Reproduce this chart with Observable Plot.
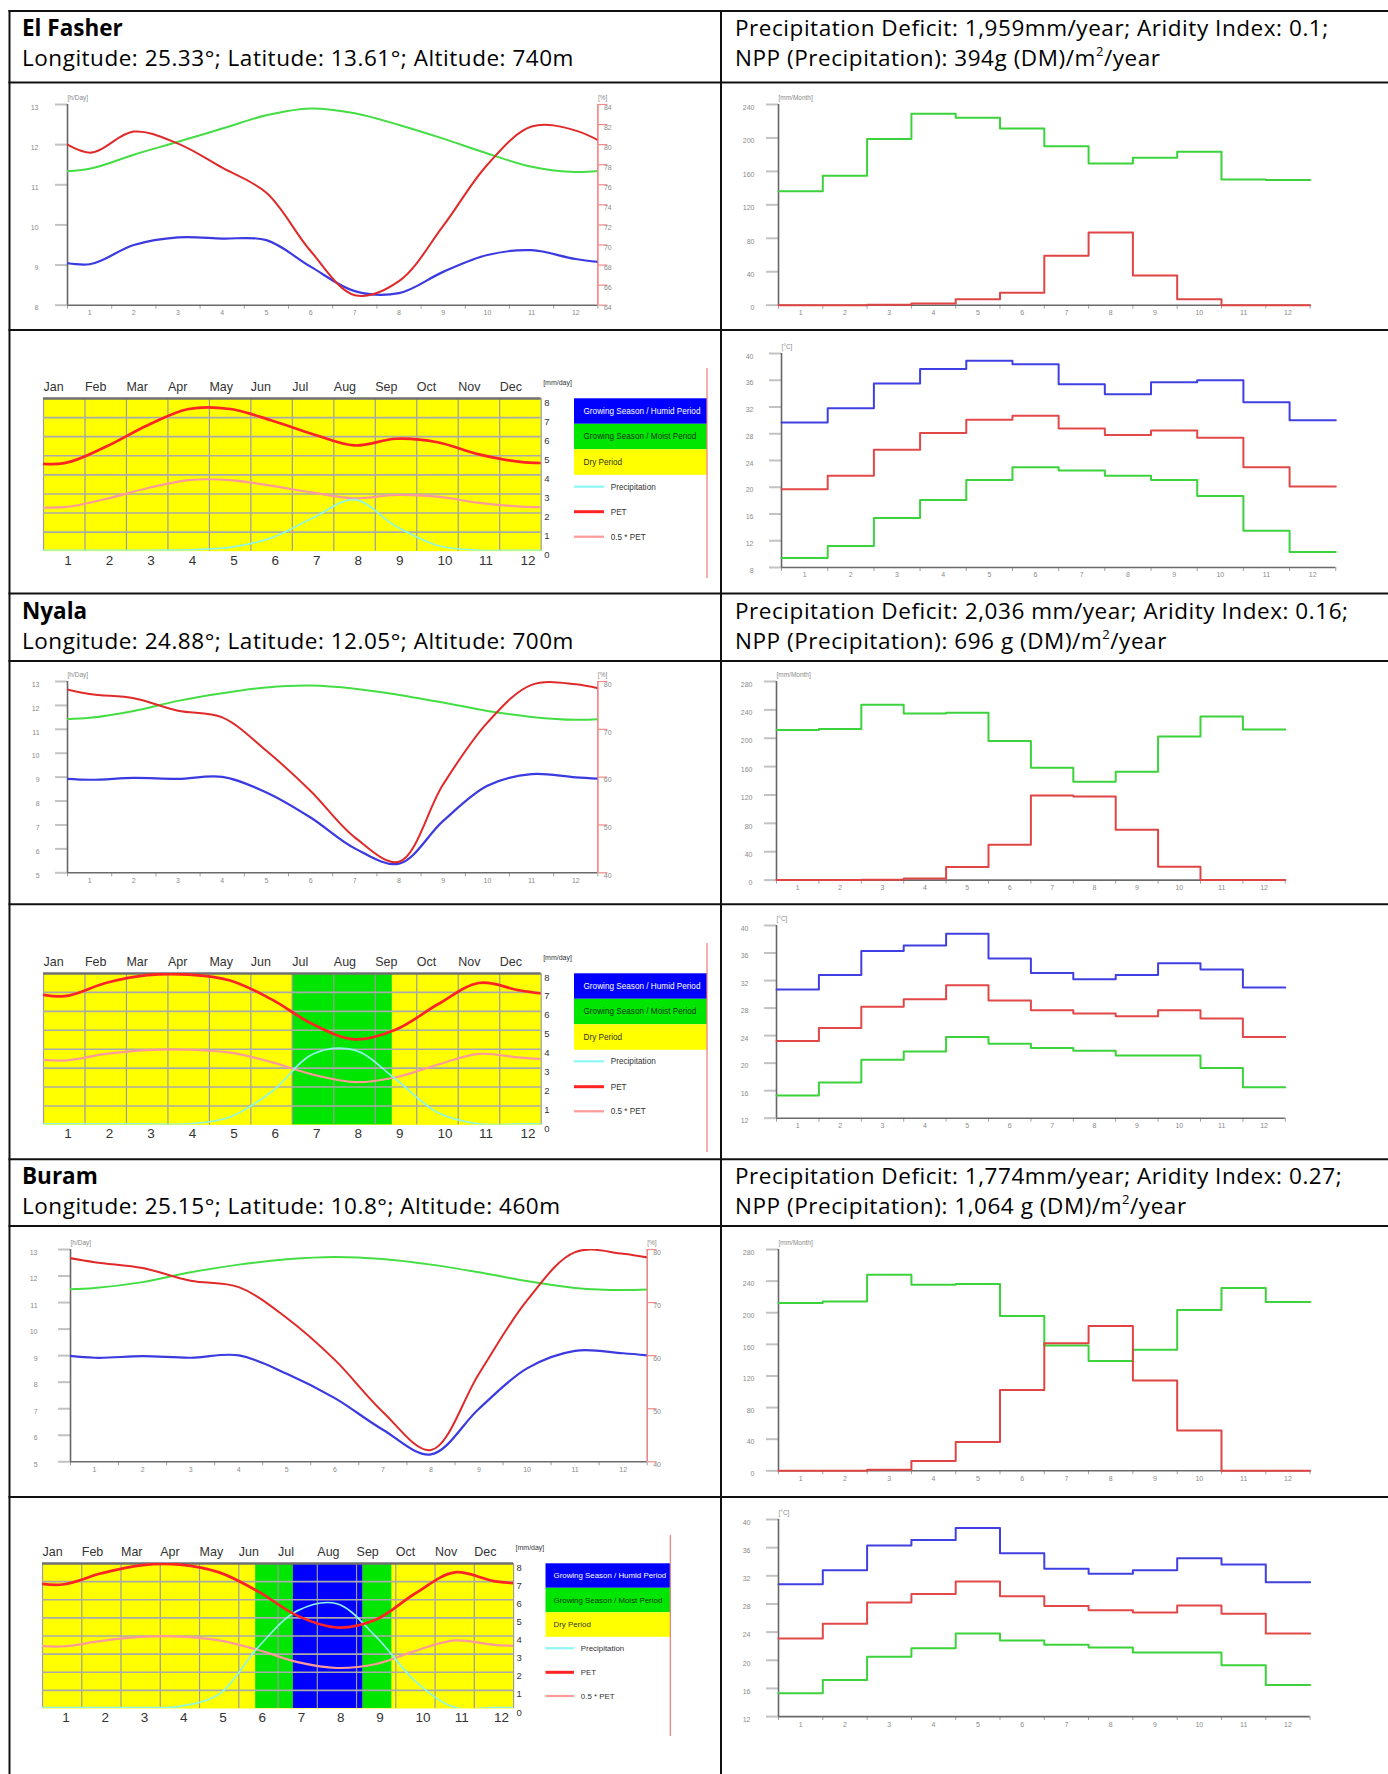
<!DOCTYPE html>
<html>
<head>
<meta charset="utf-8">
<script src="https://cdn.jsdelivr.net/npm/d3@7"></script>
<script src="https://cdn.jsdelivr.net/npm/@observablehq/plot@0.6"></script>
<style>
  html, body { margin: 0; padding: 0; background: #fff; }
  #page { position: relative; width: 1388px; height: 1774px; overflow: hidden; background: #fff; }
  #page > svg { position: absolute; }
</style>
</head>
<body>
<div id="page"></div>
<script>
// ---------------- data ----------------
const months = ["Jan", "Feb", "Mar", "Apr", "May", "Jun", "Jul", "Aug", "Sep", "Oct", "Nov", "Dec"];
const monthNumbers = [1, 2, 3, 4, 5, 6, 7, 8, 9, 10, 11, 12];
const periodLabels = ["Growing Season / Humid Period", "Growing Season / Moist Period", "Dry Period"];
const seriesLabels = ["Precipitation", "PET", "0.5 * PET"];

// El Fasher
const fasherName = "El Fasher";
const fasherLocation = "Longitude: 25.33°; Latitude: 13.61°; Altitude: 740m";
const fasherBalance = "Precipitation Deficit: 1,959mm/year; Aridity Index: 0.1;";
const fasherNpp = ["NPP (Precipitation): 394g (DM)/m", "2", "/year"];
const fasherDayLength = [11.40, 11.75, 12.07, 12.40, 12.73, 12.90, 12.78, 12.49, 12.15, 11.78, 11.45, 11.32];
const fasherSunshine = [9.02, 9.50, 9.69, 9.66, 9.62, 8.96, 8.35, 8.30, 8.83, 9.25, 9.37, 9.15];
const fasherRelSunshine = [79.2, 81.3, 80.1, 77.7, 75.2, 69.4, 65.0, 66.4, 71.9, 78.0, 81.8, 81.4];
const fasherPetDaily = [4.61, 5.47, 6.59, 7.45, 7.45, 6.85, 6.13, 5.54, 5.89, 5.71, 5.07, 4.68];
const fasherRainDaily = [0.05, 0.05, 0.05, 0.07, 0.20, 0.70, 1.75, 2.70, 1.30, 0.30, 0.05, 0.05];
const fasherMoist = [];
const fasherHumid = [];
const fasherPetMonthly = [136.4, 154.7, 198.6, 228.9, 224.1, 211.4, 190.2, 169.5, 176.3, 183.5, 150.3, 149.6];
const fasherRainMonthly = [0, 0, 0.5, 2.0, 7.2, 14.8, 59.0, 87.0, 35.5, 7.2, 0, 0];
const fasherTmax = [29.7, 31.8, 35.5, 37.7, 38.9, 38.4, 35.4, 33.9, 35.7, 36.0, 32.7, 30.0];
const fasherTmean = [19.7, 21.7, 25.6, 28.1, 30.1, 30.7, 28.8, 27.8, 28.5, 27.4, 23.0, 20.1];
const fasherTmin = [9.4, 11.2, 15.4, 18.1, 21.1, 23.0, 22.5, 21.7, 21.1, 18.7, 13.5, 10.3];

// Nyala
const nyalaName = "Nyala";
const nyalaLocation = "Longitude: 24.88°; Latitude: 12.05°; Altitude: 700m";
const nyalaBalance = "Precipitation Deficit: 2,036 mm/year; Aridity Index: 0.16;";
const nyalaNpp = ["NPP (Precipitation): 696 g (DM)/m", "2", "/year"];
const nyalaDayLength = [11.48, 11.77, 12.19, 12.51, 12.75, 12.83, 12.70, 12.44, 12.12, 11.77, 11.52, 11.40];
const nyalaSunshine = [8.89, 8.97, 8.93, 9.01, 8.36, 7.31, 6.02, 5.38, 7.17, 8.64, 9.13, 8.99];
const nyalaRelSunshine = [77.4, 76.5, 73.9, 72.5, 65.5, 57.1, 47.4, 42.3, 58.5, 71.4, 79.3, 79.4];
const nyalaPetDaily = [6.80, 7.50, 7.91, 7.94, 7.63, 6.63, 5.31, 4.52, 5.04, 6.36, 7.50, 7.10];
const nyalaRainDaily = [0.05, 0.05, 0.05, 0.05, 0.42, 1.75, 3.75, 3.95, 2.40, 0.65, 0.05, 0.05];
const nyalaMoist = [[6.0, 8.41]];
const nyalaHumid = [];
const nyalaPetMonthly = [211.5, 212.9, 247.2, 235.0, 236.0, 196.0, 158.4, 138.7, 152.8, 202.6, 230.8, 212.5];
const nyalaRainMonthly = [0, 0, 0.5, 2.4, 18.3, 49.8, 119.4, 118.0, 71.0, 18.8, 0, 0];
const nyalaTmax = [30.7, 32.8, 36.3, 37.1, 38.8, 35.2, 33.1, 32.2, 32.8, 34.5, 33.6, 31.0];
const nyalaTmean = [23.2, 25.1, 28.2, 29.3, 31.3, 29.1, 27.7, 27.2, 26.8, 27.7, 26.5, 23.8];
const nyalaTmin = [15.3, 17.2, 20.5, 21.7, 23.8, 22.8, 22.2, 21.8, 21.1, 21.1, 19.3, 16.5];

// Buram
const buramName = "Buram";
const buramLocation = "Longitude: 25.15°; Latitude: 10.8°; Altitude: 460m";
const buramBalance = "Precipitation Deficit: 1,774mm/year; Aridity Index: 0.27;";
const buramNpp = ["NPP (Precipitation): 1,064 g (DM)/m", "2", "/year"];
const buramDayLength = [11.55, 11.77, 12.14, 12.43, 12.63, 12.72, 12.64, 12.43, 12.14, 11.81, 11.55, 11.47];
const buramSunshine = [8.92, 8.98, 8.92, 9.01, 8.32, 7.40, 6.21, 5.28, 7.00, 8.52, 9.18, 9.09];
const buramRelSunshine = [77.6, 76.5, 74.1, 72.9, 67.1, 59.2, 49.4, 42.2, 56.6, 70.4, 79.5, 79.2];
const buramPetDaily = [6.84, 7.46, 7.90, 7.94, 7.51, 6.45, 5.11, 4.47, 4.91, 6.36, 7.51, 7.03];
const buramRainDaily = [0.05, 0.05, 0.05, 0.12, 0.80, 3.40, 5.40, 5.78, 3.95, 1.50, 0.06, 0.05];
const buramMoist = [[5.43, 6.39], [8.16, 8.90]];
const buramHumid = [[6.39, 8.16]];
const buramPetMonthly = [212.3, 214.1, 248.1, 235.3, 236.2, 196.0, 158.4, 138.9, 153.0, 203.5, 231.3, 213.6];
const buramRainMonthly = [0, 0, 1.3, 12.4, 36.3, 102.2, 161.4, 183.1, 114.1, 50.9, 0, 0];
const buramTmax = [30.8, 32.8, 36.3, 37.1, 38.8, 35.2, 33.0, 32.3, 32.8, 34.5, 33.6, 31.1];
const buramTmean = [23.1, 25.2, 28.2, 29.4, 31.2, 29.1, 27.7, 27.1, 26.8, 27.8, 26.6, 23.8];
const buramTmin = [15.3, 17.2, 20.5, 21.7, 23.8, 22.8, 22.2, 21.8, 21.1, 21.1, 19.3, 16.5];

// ---------------- helpers ----------------
const page = document.getElementById("page");
const FONT = "'Liberation Sans', Arial, sans-serif";
const TICK_INK = "#8a8a8a";

// monthly values drawn at mid-month, wrapped around the year so the curve closes smoothly
function cyclic(values) {
  const pts = values.map((v, i) => ({m: i + 0.5, v}));
  return [{m: -0.5, v: values[11]}, ...pts, {m: 12.5, v: values[0]}];
}
// monthly values held constant through each month
function steps(values) {
  return values.map((v, i) => ({m: i, v})).concat([{m: 12, v: values[11]}]);
}
// plot sized so that its frame lands on the given page rectangle
function framed(f, pad, options) {
  const [l, t, r, b] = pad;
  const svg = Plot.plot({
    width: f.x1 - f.x0 + l + r,
    height: f.y1 - f.y0 + t + b,
    marginLeft: l, marginTop: t, marginRight: r, marginBottom: b,
    style: {fontFamily: FONT, background: "none", overflow: "visible"},
    ...options
  });
  svg.style.position = "absolute";
  svg.style.left = (f.x0 - l) + "px";
  svg.style.top = (f.y0 - t) + "px";
  page.appendChild(svg);
  return svg;
}
function monthAxis(lo) {
  return [
    Plot.axisX(d3.range(0, 13), {anchor: "bottom", tickSize: 4, stroke: "#a0a0a0", strokeWidth: 1, fill: "none", label: null}),
    Plot.axisX(d3.range(0.5, 12), {anchor: "bottom", tickSize: 0, tickPadding: 5, tickFormat: x => x + 0.5, fill: TICK_INK, fontSize: 7, label: null}),
    Plot.ruleY([lo], {stroke: "#6a6a6a", strokeWidth: 1.6})
  ];
}
// left value axis: grey tick stubs, labels set well clear of the axis line
function leftAxis(ticks, offset) {
  return [
    Plot.axisY(ticks, {anchor: "left", tickSize: 12, stroke: "#c2c2c2", strokeWidth: 2, fill: "none", label: null}),
    Plot.axisY(ticks, {anchor: "left", tickSize: 0, tickPadding: offset, fill: TICK_INK, fontSize: 7, dy: 3, label: null}),
    Plot.ruleX([0], {stroke: "#666", strokeWidth: 1.6})
  ];
}
function unitLabel(text, x, y) {
  return Plot.text([text], {x: () => x, y: () => y, text: d => d, textAnchor: "start", dy: -7, fontSize: 6.5, fill: TICK_INK});
}

// day length, sunshine hours and relative sunshine
function sunChart(f, s) {
  const toLeft = v => s.lo + (v - s.rlo) * (s.hi - s.lo) / (s.rhi - s.rlo);
  const fromLeft = y => s.rlo + (y - s.lo) * (s.rhi - s.rlo) / (s.hi - s.lo);
  const lTicks = d3.range(s.lo, s.hi + 0.001, 1);
  const rTicks = d3.range(s.rlo, s.rhi + 0.001, s.rstep).map(toLeft);
  framed(f, [45, 25, 25, 20], {
    x: {domain: [0, 12], axis: null},
    y: {domain: [s.lo, s.hi], axis: null},
    marks: [
      ...leftAxis(lTicks, s.pad),
      Plot.axisY(rTicks, {anchor: "right", tickSize: 9, stroke: "#f08a8a", strokeWidth: 1.2, fill: "none", label: null}),
      Plot.axisY(rTicks, {anchor: "right", tickSize: 0, tickPadding: 6, tickFormat: y => Math.round(fromLeft(y)), fill: TICK_INK, fontSize: 7, dy: 3, label: null}),
      ...monthAxis(s.lo),
      Plot.ruleX([12], {stroke: "#f07a7a", strokeWidth: 1.5}),
      Plot.line(cyclic(s.day), {x: "m", y: "v", curve: "catmull-rom", stroke: "#44dd44", strokeWidth: 2, clip: true}),
      Plot.line(cyclic(s.sun), {x: "m", y: "v", curve: "catmull-rom", stroke: "#3a3ae0", strokeWidth: 2.2, clip: true}),
      Plot.line(cyclic(s.rel), {x: "m", y: d => toLeft(d.v), curve: "catmull-rom", stroke: "#e02a2a", strokeWidth: 2, clip: true}),
      unitLabel("[h/Day]", 0, s.hi),
      unitLabel("[%]", 12, s.hi)
    ]
  });
}

// daily precipitation against PET with growing-season shading
function waterChart(f, w) {
  framed(f, [10, 30, 30, 25], {
    x: {domain: [0, 12], axis: null},
    y: {domain: [0, 8], axis: null},
    marks: [
      Plot.frame({fill: "#ffff00", stroke: "none"}),
      Plot.rect(w.moist, {x1: p => p[0], x2: p => p[1], fill: "#00e600"}),
      Plot.rect(w.humid, {x1: p => p[0], x2: p => p[1], fill: "#0000ff"}),
      Plot.ruleX(d3.range(0, 13), {stroke: "#9c9c9c", strokeWidth: 1.2}),
      Plot.ruleY(d3.range(1, 8), {stroke: "#aaaaaa", strokeWidth: 1.6}),
      Plot.ruleY([8], {stroke: "#707070", strokeWidth: 2.5}),
      Plot.line(cyclic(w.pet), {x: "m", y: d => d.v / 2, curve: "catmull-rom", stroke: "#ff9a9a", strokeWidth: 2.2, clip: true}),
      Plot.line(cyclic(w.rain), {x: "m", y: "v", curve: "catmull-rom", stroke: "#8ef6e6", strokeWidth: 1.7, clip: true}),
      Plot.line(cyclic(w.pet), {x: "m", y: "v", curve: "catmull-rom", stroke: "#ff2424", strokeWidth: 2.7, clip: true}),
      Plot.text(months, {x: (d, i) => i, y: () => 8, text: d => d, textAnchor: "start", lineAnchor: "bottom", dy: -7, fontSize: 12.5, fill: "#333"}),
      Plot.text(monthNumbers, {x: (d, i) => i + 0.5, y: () => 0, text: d => String(d), textAnchor: "start", lineAnchor: "top", dy: 4, fontSize: 13.5, fill: "#333"}),
      Plot.text(d3.range(0, 9), {x: () => 12, y: d => d, text: d => String(d), textAnchor: "start", dx: 3, dy: 4, fontSize: 9.5, fill: "#333"}),
      Plot.text(["[mm/day]"], {x: () => 12, y: () => 8, text: d => d, textAnchor: "start", dx: 2, dy: -16, fontSize: 7, fill: "#333"})
    ]
  });
}

// monthly PET and precipitation
function rainChart(f, r) {
  framed(f, [45, 25, 25, 20], {
    x: {domain: [0, 12], axis: null},
    y: {domain: [0, r.hi], axis: null},
    marks: [
      ...leftAxis(d3.range(0, r.hi + 1, 40), 24),
      ...monthAxis(0),
      Plot.line(steps(r.pet), {x: "m", y: "v", curve: "step-after", stroke: "#3cd23c", strokeWidth: 2}),
      Plot.line(steps(r.rain), {x: "m", y: "v", curve: "step-after", stroke: "#e04444", strokeWidth: 2}),
      unitLabel("[mm/Month]", 0, r.hi)
    ]
  });
}

// monthly maximum, mean and minimum temperature
function tempChart(f, t) {
  framed(f, [45, 25, 25, 20], {
    x: {domain: [0, 12], axis: null},
    y: {domain: [t.lo, 40], axis: null},
    marks: [
      ...leftAxis(d3.range(t.lo, 40.001, 4), 28),
      ...monthAxis(t.lo),
      Plot.line(steps(t.max), {x: "m", y: "v", curve: "step-after", stroke: "#4040e2", strokeWidth: 2}),
      Plot.line(steps(t.mean), {x: "m", y: "v", curve: "step-after", stroke: "#e24848", strokeWidth: 2}),
      Plot.line(steps(t.min), {x: "m", y: "v", curve: "step-after", stroke: "#3cd23c", strokeWidth: 2}),
      unitLabel("[°C]", 0, 40)
    ]
  });
}

// ---------------- table frame and headers ----------------
const sheet = d3.select(page).append("svg")
  .attr("width", 1388).attr("height", 1774)
  .style("left", "0px").style("top", "0px");

const rowLines = [11, 82.5, 330, 593.5, 661, 904.3, 1159.3, 1226, 1497];
rowLines.forEach(y => sheet.append("line").attr("x1", 8.5).attr("x2", 1392).attr("y1", y).attr("y2", y)
  .attr("stroke", "#111").attr("stroke-width", 2));
[9.5, 721].forEach(x => sheet.append("line").attr("x1", x).attr("x2", x).attr("y1", 10).attr("y2", 1780)
  .attr("stroke", "#111").attr("stroke-width", 2));

function header(top, name, location, balance, npp) {
  const g = sheet.append("g").attr("font-family", "'Open Sans', 'Noto Sans', sans-serif")
    .attr("font-size", 22.5).attr("fill", "#000");
  g.append("text").attr("x", 22).attr("y", top + 25).attr("font-weight", "bold").text(name);
  g.append("text").attr("x", 22).attr("y", top + 55).attr("letter-spacing", 0.52).text(location);
  g.append("text").attr("x", 735).attr("y", top + 25).attr("letter-spacing", 0.55).text(balance);
  const t = g.append("text").attr("x", 735).attr("y", top + 55).attr("letter-spacing", 0.55);
  t.append("tspan").text(npp[0]);
  t.append("tspan").attr("dy", -10).attr("font-size", 13).text(npp[1]);
  t.append("tspan").attr("dy", 10).text(npp[2]);
}
header(11, fasherName, fasherLocation, fasherBalance, fasherNpp);
header(594, nyalaName, nyalaLocation, nyalaBalance, nyalaNpp);
header(1159.3, buramName, buramLocation, buramBalance, buramNpp);

// legend beside each water-balance diagram
function legend(L) {
  const g = sheet.append("g").attr("font-family", FONT).attr("font-size", L.fs);
  const boxes = [["#0000ff", "#ffffff"], ["#00e600", "#123312"], ["#ffff00", "#333333"]];
  periodLabels.forEach((label, i) => {
    g.append("rect").attr("x", L.x).attr("y", L.y + i * L.boxH).attr("width", L.w).attr("height", L.boxH).attr("fill", boxes[i][0]);
    g.append("text").attr("x", L.x + L.textDx).attr("y", L.y + i * L.boxH + L.boxH / 2).attr("dy", "0.35em")
      .attr("fill", boxes[i][1]).text(label);
  });
  const lines = [["#8ef6f6", 2.2], ["#ff2424", 3], ["#ff9a9a", 2.2]];
  seriesLabels.forEach((label, i) => {
    const y = L.rowY[i];
    g.append("line").attr("x1", L.x).attr("x2", L.x + L.lineW).attr("y1", y).attr("y2", y)
      .attr("stroke", lines[i][0]).attr("stroke-width", lines[i][1]);
    g.append("text").attr("x", L.textX).attr("y", y).attr("dy", "0.35em").attr("fill", "#333").text(label);
  });
  g.append("line").attr("x1", L.sepX).attr("x2", L.sepX).attr("y1", L.sepY[0]).attr("y2", L.sepY[1])
    .attr("stroke", "#f07a7a").attr("stroke-width", 1.2);
}

// ---------------- El Fasher ----------------
sunChart({x0: 66.6, x1: 597, y0: 104.3, y1: 305},
  {lo: 8, hi: 13, rlo: 64, rhi: 84, rstep: 2, pad: 29, day: fasherDayLength, sun: fasherSunshine, rel: fasherRelSunshine});
waterChart({x0: 42.7, x1: 540.4, y0: 398, y1: 550.7},
  {pet: fasherPetDaily, rain: fasherRainDaily, moist: fasherMoist, humid: fasherHumid});
legend({x: 574, w: 133, y: 398.3, boxH: 25.5, textDx: 9.5, fs: 8.2, lineW: 30, textX: 610.7,
  rowY: [486.7, 511.7, 536.7], sepX: 707, sepY: [368, 578]});
rainChart({x0: 778.4, x1: 1310, y0: 104.3, y1: 305}, {hi: 240, pet: fasherPetMonthly, rain: fasherRainMonthly});
tempChart({x0: 780.5, x1: 1334.8, y0: 352.7, y1: 566.7}, {lo: 8, max: fasherTmax, mean: fasherTmean, min: fasherTmin});

// ---------------- Nyala ----------------
sunChart({x0: 66.6, x1: 597, y0: 680.7, y1: 872},
  {lo: 5, hi: 13, rlo: 40, rhi: 80, rstep: 10, pad: 28, day: nyalaDayLength, sun: nyalaSunshine, rel: nyalaRelSunshine});
waterChart({x0: 42.7, x1: 540.4, y0: 973.3, y1: 1124.7},
  {pet: nyalaPetDaily, rain: nyalaRainDaily, moist: nyalaMoist, humid: nyalaHumid});
legend({x: 574, w: 133, y: 973.3, boxH: 25.5, textDx: 9.5, fs: 8.2, lineW: 30, textX: 610.7,
  rowY: [1061.3, 1086.7, 1111.3], sepX: 707, sepY: [943, 1152]});
rainChart({x0: 776.2, x1: 1285, y0: 680.7, y1: 879.3}, {hi: 280, pet: nyalaPetMonthly, rain: nyalaRainMonthly});
tempChart({x0: 776.2, x1: 1285, y0: 925, y1: 1117.7}, {lo: 12, max: nyalaTmax, mean: nyalaTmean, min: nyalaTmin});

// ---------------- Buram ----------------
sunChart({x0: 69.8, x1: 646.5, y0: 1248.7, y1: 1461},
  {lo: 5, hi: 13, rlo: 40, rhi: 80, rstep: 10, pad: 33, day: buramDayLength, sun: buramSunshine, rel: buramRelSunshine});
waterChart({x0: 42.2, x1: 513.3, y0: 1563.3, y1: 1708.3},
  {pet: buramPetDaily, rain: buramRainDaily, moist: buramMoist, humid: buramHumid});
legend({x: 545.5, w: 124.8, y: 1563.3, boxH: 24.5, textDx: 8, fs: 7.9, lineW: 28.5, textX: 580.8,
  rowY: [1648.2, 1672.3, 1696], sepX: 670.3, sepY: [1535, 1736]});
rainChart({x0: 778.4, x1: 1310, y0: 1248.7, y1: 1470}, {hi: 280, pet: buramPetMonthly, rain: buramRainMonthly});
tempChart({x0: 778.4, x1: 1310, y0: 1518.9, y1: 1716}, {lo: 12, max: buramTmax, mean: buramTmean, min: buramTmin});
</script>
</body>
</html>
